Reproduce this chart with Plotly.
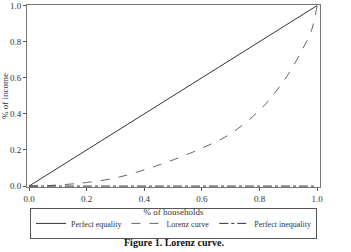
import plotly.graph_objects as go

households = [0, 0.05, 0.1, 0.15, 0.2, 0.3, 0.4, 0.5, 0.6, 0.7, 0.8, 0.85, 0.9, 0.95, 0.98, 0.99, 1.0]
lorenz = [0, 0.002, 0.006, 0.012, 0.02, 0.045, 0.09, 0.145, 0.21, 0.29, 0.42, 0.51, 0.62, 0.76, 0.86, 0.92, 1.0]
equality_x = [0, 1]
equality_y = [0, 1]
inequality_x = [0, 1]
inequality_y = [0, 0]
ticks = [0.0, 0.2, 0.4, 0.6, 0.8, 1.0]
tick_labels = ["0.0", "0.2", "0.4", "0.6", "0.8", "1.0"]

font = "Liberation Serif, Times New Roman, serif"
fig = go.Figure()
fig.add_trace(go.Scatter(x=equality_x, y=equality_y, mode="lines", name="Perfect equality",
                         line=dict(color="#333333", width=1)))
fig.add_trace(go.Scatter(x=households, y=lorenz, mode="lines", name="Lorenz curve",
                         line=dict(color="#666666", width=1, dash="dash", shape="spline")))
fig.add_trace(go.Scatter(x=inequality_x, y=inequality_y, mode="lines", name="Perfect inequality",
                         line=dict(color="#333333", width=1, dash="dashdot")))

axis_common = dict(showgrid=False, zeroline=False, showline=True, linecolor="#777777", linewidth=1,
                   mirror=True, ticks="outside", ticklen=3, tickcolor="#555555", automargin=False,
                   tickvals=ticks, ticktext=tick_labels, tickfont=dict(family=font, size=9, color="#333333"))
fig.update_xaxes(range=[-0.007, 1.01], title=dict(text="% of households", font=dict(family=font, size=9, color="#333333"), standoff=5), **axis_common)
fig.update_yaxes(range=[-0.005, 1.003], title=dict(text="% of income", font=dict(family=font, size=9, color="#333333"), standoff=4), **axis_common)

fig.update_layout(
    width=351, height=252,
    margin=dict(l=27, r=31, t=5, b=65, autoexpand=False),
    plot_bgcolor="white", paper_bgcolor="white",
    font=dict(family=font, size=9, color="#333333"),
    legend=dict(orientation="h", x=0.5, xanchor="center", xref="paper",
                y=-0.2, yanchor="middle", yref="paper",
                bordercolor="#555555", borderwidth=1, font=dict(family=font, size=8, color="#333333"),
                tracegroupgap=0, itemwidth=30),
    annotations=[dict(text="<b>Figure 1. Lorenz curve.</b>", xref="paper", yref="paper",
                      x=0.5, y=-0.305, xanchor="center", yanchor="middle", showarrow=False,
                      font=dict(family=font, size=10, color="#111111"))],
)
fig.write_html("out.html")
